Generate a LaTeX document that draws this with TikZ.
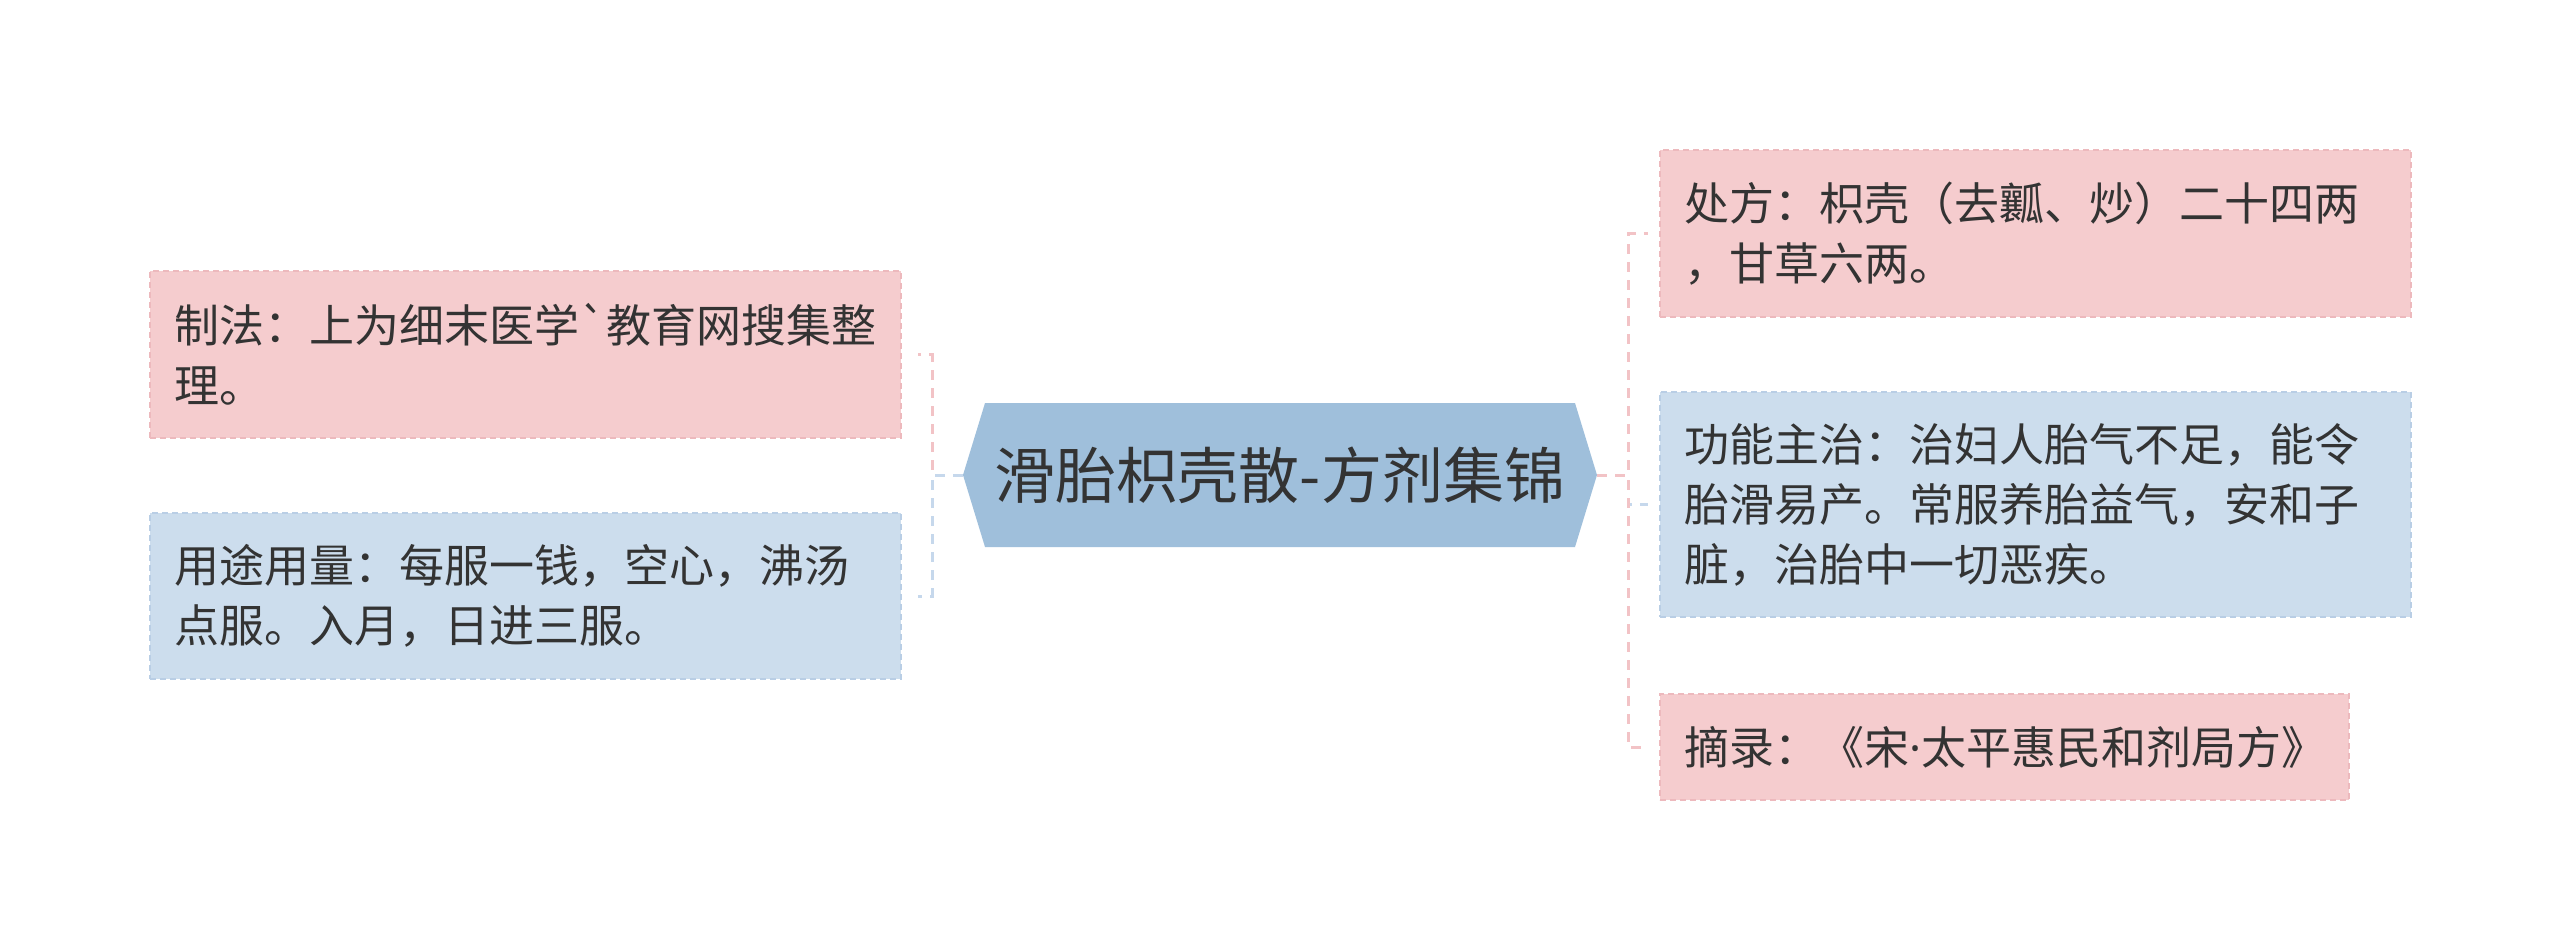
\documentclass[tikz,border=0pt]{standalone}
\usepackage{fontspec}
\newfontfamily\cjk{Noto Sans CJK SC}
\newfontfamily\lat{Noto Sans}
\usetikzlibrary{shapes.symbols}
\definecolor{pinkfill}{HTML}{F5CCCE}
\definecolor{pinkline}{HTML}{EDB9BD}
\definecolor{bluefill}{HTML}{CCDDED}
\definecolor{blueline}{HTML}{B9CEE5}
\definecolor{hexfill}{HTML}{9FBFDB}
\definecolor{pinklink}{HTML}{F2C3C6}
\definecolor{bluelink}{HTML}{C6D8EC}
\definecolor{txt}{HTML}{333333}
\begin{document}
\begin{tikzpicture}[x=0.5pt,y=-0.5pt,
  box/.style={rectangle, draw, dash pattern=on 3pt off 2pt, line width=1pt,
    text=txt, align=left, inner xsep=12.25pt, inner ysep=0pt,
    font=\cjk\fontsize{22.5}{30}\selectfont, text width=351pt, minimum width=375.5pt},
  pinkbox/.style={box, fill=pinkfill, draw=pinkline},
  bluebox/.style={box, fill=bluefill, draw=blueline},
  link/.style={line width=1.5pt, dash pattern=on 5pt off 4pt},
  hub/.style={signal, signal to=east and west, signal pointer angle=146,
    fill=hexfill, draw=none, text=txt, inner sep=0pt,
    minimum width=317pt, minimum height=72pt, font=\cjk\fontsize{30.5}{36}\selectfont},
]
\useasboundingbox[fill=white] (0,0) rectangle (2560,950);

\node[hub] (c) at (1280,475) {滑胎枳壳散-方剂集锦};

\node[pinkbox, minimum height=83.5pt] (l1) at (525.5,354.5)
  {制法：上为细末医学`教育网搜集整\\理。};
\node[bluebox, minimum height=83pt] (l2) at (525.5,596)
  {用途用量：每服一钱，空心，沸汤\\点服。入月，日进三服。};

\node[pinkbox, minimum height=83.5pt] (r1) at (2035,233.5)
  {处方：枳壳（去瓤、炒）二十四两\\，甘草六两。};
\node[bluebox, minimum height=112.5pt] (r2) at (2035,504.5)
  {功能主治：治妇人胎气不足，能令\\胎滑易产。常服养胎益气，安和子\\脏，治胎中一切恶疾。};
\node[pinkbox, minimum height=53pt, text width=320pt, minimum width=344.5pt] (r3) at (2004.5,747)
  {摘录：《宋{\lat ·}太平惠民和剂局方》};

\coordinate (lj) at (932,475);
\coordinate (rj) at (1628,475);

\draw[link, pinklink, shorten >=8pt] (c.west) -- (lj) |- (l1.east);
\draw[link, bluelink, shorten >=8pt] (c.west) -- (lj) |- (l2.east);

\draw[link, bluelink, shorten >=5.5pt] (c.east) -- (rj) |- (r2.west);
\draw[link, pinklink, shorten >=5.5pt] (c.east) -- (rj) |- (r1.west);
\draw[link, pinklink, shorten >=5.5pt] (c.east) -- (rj) |- (r3.west);
\end{tikzpicture}
\end{document}
